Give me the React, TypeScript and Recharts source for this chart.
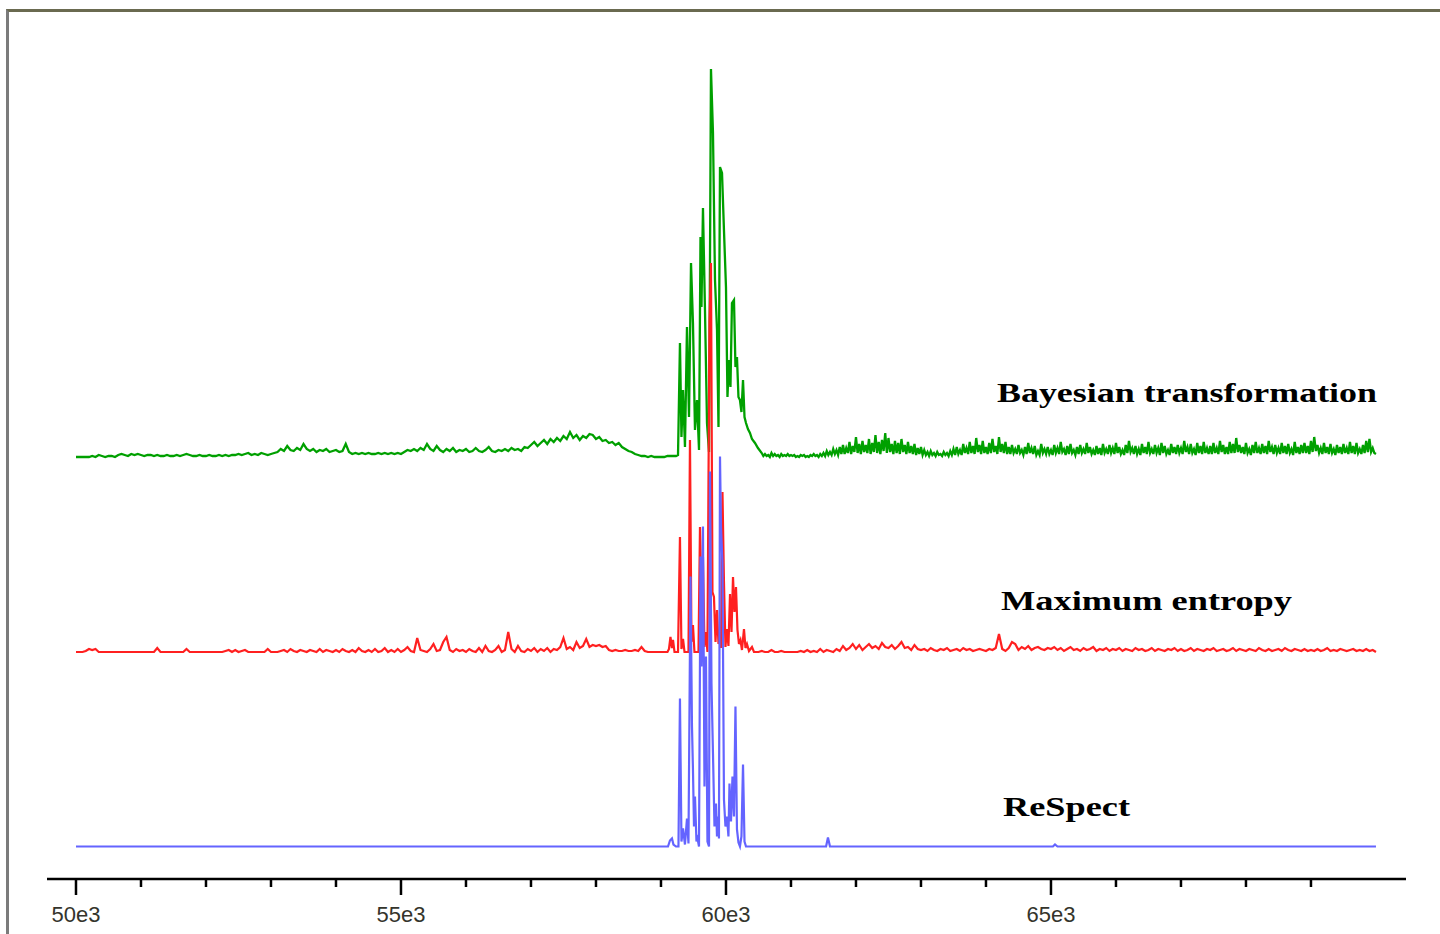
import React from "react";
import { LineChart, Line, XAxis, YAxis } from "recharts";

// ---------- data (relative intensity, arbitrary units; masses in Da) ----------

// Bayesian transformation (green): left background sampled every 50 Da
const greenLeftStart = 50000;
const greenLeftStep = 50;
const greenLeft = [
  0, 0, 0, 0, 0, 1, 0,
  2, 1, 0, 1, 1, 0,
  2, 3, 2, 1, 3, 2, 3, 2, 1, 2, 2,
  1, 2, 1, 1, 2, 1, 1, 2, 1, 2, 3, 2, 1, 1, 2, 1, 1, 2, 1, 1, 2, 1, 2, 1, 2,
  2, 3, 2, 3, 4, 2, 3, 2, 4, 3, 2, 3, 4,
  5, 8, 6, 11, 7, 6, 9, 7, 13, 8, 6, 8, 5, 7, 6, 8, 5, 6, 7, 5, 6,
  13, 5, 3, 4, 3, 4, 3, 4, 3, 3, 4, 3, 4, 3, 4, 3, 4, 3,
  5, 7, 6, 8, 6, 9, 7, 13, 8, 6, 11, 7, 5, 8, 6, 9, 5, 7, 6, 8, 5, 6, 9, 6, 5, 7, 10, 6, 5, 7, 6, 8, 6, 9, 7, 8, 6, 10, 9,
  12, 15, 11, 14, 17, 13, 18, 15, 19, 16, 21, 18, 25, 19, 22, 17, 21, 19, 23, 22, 18, 20, 16, 17, 14, 15, 12, 14, 10,
  8, 6, 5, 3, 2, 1, 1, 0, 1, 0, 0, 0, 0, 1, 1,
];
const greenPeak: [number, number][] = [
  [59200, 1], [59231, 1], [59262, 2], [59292, 114], [59315, 20], [59339, 67], [59369, 10],
  [59400, 130], [59431, 40], [59462, 194], [59492, 134], [59523, 27], [59554, 57], [59585, 7],
  [59608, 220], [59623, 150], [59646, 249], [59677, 147], [59708, 34], [59739, 5], [59769, 388],
  [59800, 324], [59831, 177], [59862, 127], [59885, 30], [59908, 290], [59939, 284], [59969, 227],
  [60000, 170], [60023, 60], [60046, 97], [60069, 70], [60092, 154], [60123, 157], [60146, 90],
  [60169, 100], [60192, 60], [60215, 57], [60238, 45], [60262, 77], [60285, 40], [60308, 34],
  [60338, 28], [60369, 24], [60400, 18], [60446, 14], [60492, 9],
];
// right background sampled every 25 Da
const greenRightStart = 60550;
const greenRightStep = 25;
const greenRight = [
  4, 1, 3, 1, 2, 0, 4, 1, 3, 1, 2, 0, 3, 1, 2, 1, 3, 1, 2, 1,
  2, 0, 1, 0, 2, 1, 2, 0, 1, 0, 2, 1, 3, 1, 2, 0, 3, 1,
  4, 1, 6, 2, 5, 2, 8, 3, 7, 2, 10, 3,
  12, 3, 9, 4, 15, 3, 11, 5, 20, 4, 13, 3, 16, 5, 12, 4, 18, 3, 14, 5, 22, 4, 15, 3, 17, 6, 24, 4, 19, 5,
  13, 3, 16, 4, 14, 3, 18, 5, 12, 3, 15, 4, 11, 3, 13, 2, 9, 3, 10, 2,
  7, 2, 5, 1, 6, 2, 4, 1, 5, 2, 3, 1, 5, 2, 4, 1, 6, 2, 8, 2,
  10, 3, 7, 2, 13, 4, 9, 3, 15, 4, 11, 3, 19, 5, 12, 3, 16, 4, 10, 3, 14, 4, 18, 5, 11, 3, 20, 5, 13, 4, 15, 3, 10, 3, 12, 4,
  8, 3, 12, 4, 7, 2, 10, 3, 14, 4, 9, 3, 11, 2, 6, 2, 13, 4, 8, 3,
  10, 3, 7, 2, 12, 4, 9, 3, 15, 5, 8, 2, 11, 3, 13, 4, 7, 2, 10, 3,
  12, 4, 8, 3, 14, 4, 10, 3, 7, 2, 11, 3, 9, 2, 13, 4, 8, 3, 12, 4,
  9, 3, 14, 4, 10, 3, 7, 2, 12, 4, 16, 5, 9, 3, 11, 3, 8, 2, 13, 4,
  10, 3, 15, 4, 8, 3, 12, 4, 9, 2, 14, 4, 11, 3, 7, 2, 13, 4, 10, 3,
  12, 4, 9, 3, 16, 5, 10, 3, 13, 4, 8, 2, 14, 4, 11, 3, 15, 4, 9, 3,
  11, 3, 14, 4, 9, 3, 16, 5, 12, 3, 10, 3, 15, 4, 13, 4, 19, 5, 12, 4,
  10, 3, 14, 4, 8, 2, 12, 4, 15, 4, 9, 3, 13, 4, 11, 3, 16, 5, 10, 3,
  12, 4, 9, 3, 14, 4, 11, 3, 13, 4, 8, 2, 15, 4, 10, 3, 12, 4, 14, 4,
  11, 3, 16, 5, 20, 6, 12, 4, 9, 3, 14, 4, 10, 3, 13, 4, 8, 2, 12, 4,
  10, 3, 13, 4, 9, 3, 15, 4, 11, 3, 14, 4, 8, 3, 12, 4, 16, 5, 18, 5,
  9, 4, 3,
];

// Maximum entropy (red): sampled every 50 Da outside the main cluster
const redStep = 50;
const redLeftStart = 50000;
const redLeft = [
  0, 0, 0, 1, 3, 2, 3, 0, 0, 0, 0, 0, 0, 0, 0, 0, 0, 0, 0, 0,
  0, 0, 0, 0, 0, 4, 0, 0, 0, 0, 0, 0, 0, 0, 3, 0, 0, 0, 0, 0,
  0, 0, 0, 0, 0, 0, 1, 2, 0, 2, 0, 1, 2, 0, 0, 0, 0, 0, 0, 3,
  0, 0, 0, 1, 2, 0, 3, 1, 0, 2, 1, 0, 2, 1, 0, 3, 0, 2, 1, 0,
  2, 0, 3, 1, 0, 2, 0, 4, 1, 0, 2, 0, 3, 0, 1, 4, 0, 2, 0, 3,
  0, 2, 5, 1, 0, 14, 2, 1, 0, 3, 8, 1, 2, 10, 15, 2, 0, 3, 1, 2,
  0, 3, 1, 0, 4, 0, 6, 1, 0, 2, 6, 0, 2, 20, 3, 0, 6, 1, 0, 3,
  1, 4, 0, 3, 1, 4, 0, 3, 2, 5, 14, 3, 5, 2, 10, 4, 6, 13, 5, 7,
  6, 7, 5, 6, 2, 1, 2, 1, 1, 2, 1, 1, 2, 1, 5, 1, 0, 0, 0, 0,
  0, 0, 0,
];
const redPeak: [number, number][] = [
  [59123, 3], [59146, 15], [59169, 4], [59185, 12], [59208, 0], [59262, 0], [59292, 115],
  [59315, 3], [59339, 13], [59362, 0], [59423, 0], [59446, 212], [59469, 10], [59492, 27],
  [59515, 0], [59577, 0], [59600, 125], [59623, 60], [59646, 95], [59669, 5], [59692, 20],
  [59715, 0], [59746, 330], [59769, 389], [59792, 60], [59815, 55], [59839, 10], [59862, 42],
  [59885, 8], [59908, 20], [59923, 4], [59946, 160], [59969, 70], [59992, 5], [60015, 23],
  [60038, 6], [60062, 58], [60085, 20], [60108, 75], [60131, 40], [60154, 65], [60177, 22],
  [60200, 8], [60223, 12], [60246, 2], [60277, 23], [60300, 4], [60323, 8], [60354, 1],
  [60400, 5], [60431, 0],
];
const redRightStart = 60450;
const redRight = [
  0, 0, 1, 0, 0, 2, 0, 0, 1, 0, 0,
  0, 0, 0, 1, 0, 2, 0, 1, 0, 3, 0, 2, 1, 0, 3, 1, 6, 2, 4, 8,
  3, 7, 2, 5, 8, 4, 6, 3, 9, 5, 4, 7, 3, 6, 10, 4, 5, 2, 7, 3,
  2, 3, 1, 4, 2, 1, 3, 2, 4, 1, 2, 3, 1, 4, 2, 3, 1, 2, 3, 2,
  1, 3, 2, 4, 18, 3, 1, 4, 10, 8, 2, 5, 3, 6, 2, 4, 5, 3, 2, 4,
  3, 5, 2, 4, 1, 3, 5, 2, 3, 1, 4, 2, 3, 5, 1, 3, 2, 4, 1, 3,
  2, 4, 1, 3, 2, 1, 4, 2, 3, 1, 2, 4, 1, 3, 2, 1, 3, 2, 4, 1,
  3, 1, 2, 4, 1, 3, 2, 1, 3, 2, 4, 1, 2, 3, 1, 2, 4, 1, 3, 2,
  1, 3, 2, 1, 4, 2, 1, 3, 1, 2, 3, 1, 4, 2, 1, 3, 2, 1, 3, 1,
  2, 1, 3, 1, 2, 4, 1, 2, 1, 3, 2, 1, 2, 3, 1, 2, 1, 3, 1, 2,
  0,
];

// ReSpect (blue): stick spectrum
const bluePoints: [number, number][] = [
  [50000, 0], [59108, 0], [59138, 6], [59169, 8], [59192, 2], [59231, 0], [59269, 0],
  [59292, 148], [59315, 5], [59339, 18], [59369, 2], [59400, 28], [59423, 3],
  [59454, 270], [59477, 120], [59492, 77], [59508, 20], [59523, 50], [59546, 5], [59562, 8], [59585, 0],
  [59608, 290], [59623, 180], [59646, 320], [59669, 60], [59692, 190], [59715, 5], [59739, 0],
  [59754, 375], [59777, 163], [59800, 93], [59823, 20], [59846, 43], [59862, 10], [59885, 30], [59892, 8],
  [59908, 390], [59923, 320], [59946, 284], [59969, 47], [59992, 20], [60015, 30], [60038, 10],
  [60054, 63], [60077, 25], [60100, 70], [60123, 30], [60146, 140], [60169, 17], [60192, 4],
  [60215, 0], [60238, 10], [60262, 82], [60285, 5], [60308, 0],
  [61540, 0], [61569, 9], [61600, 0], [65030, 0], [65062, 2], [65100, 0], [70000, 0],
];

// axis
const xDomain: [number, number] = [49554, 70462];
const xTicks = [
  50000, 51000, 52000, 53000, 54000, 55000, 56000, 57000, 58000, 59000,
  60000, 61000, 62000, 63000, 64000, 65000, 66000, 67000, 68000, 69000,
];
const xMajorTicks = [50000, 55000, 60000, 65000];
const xTickLabels = ["50e3", "55e3", "60e3", "65e3"];

const seriesLabels = ["Bayesian transformation", "Maximum entropy", "ReSpect"];

// ---------- build tables ----------
const gridSeries = (start: number, step: number, vals: number[]) =>
  vals.map((v, i) => ({ m: start + i * step, v }));
const pairSeries = (pts: [number, number][]) => pts.map(([m, v]) => ({ m, v }));

const greenData = [
  ...gridSeries(greenLeftStart, greenLeftStep, greenLeft),
  ...pairSeries(greenPeak),
  ...gridSeries(greenRightStart, greenRightStep, greenRight),
];
const redData = [
  ...gridSeries(redLeftStart, redStep, redLeft),
  ...pairSeries(redPeak),
  ...gridSeries(redRightStart, redStep, redRight),
];
const blueData = pairSeries(bluePoints);

const AxisTick = (props: any) => {
  const { x, y, payload } = props;
  const idx = xMajorTicks.indexOf(payload.value);
  const major = idx >= 0;
  return (
    <g>
      <line x1={x} y1={y} x2={x} y2={y + (major ? 16 : 8)} stroke="#000" strokeWidth={2.5} />
      {major && (
        <text
          x={x}
          y={y + 43}
          textAnchor="middle"
          fontFamily="'Liberation Sans', Arial, sans-serif"
          fontSize={22}
          fill="#34342c"
        >
          {xTickLabels[idx]}
        </text>
      )}
    </g>
  );
};

const labelStyle = {
  fontFamily: "'Liberation Serif', 'Times New Roman', serif",
  fontWeight: 700 as const,
  fontSize: 28,
  fill: "#000",
};

export default function App() {
  return (
    <div style={{ position: "absolute", left: 0, top: 0, width: 1440, height: 934, overflow: "hidden", background: "#fff" }}>
      <div
        style={{
          position: "absolute",
          left: 6,
          top: 9,
          width: 1500,
          height: 1000,
          borderLeft: "3px solid #7b7b7b",
          borderTop: "3px solid #6a6a50",
          boxSizing: "border-box",
        }}
      />
      <div style={{ position: "absolute", left: 0, top: 0 }}>
        <LineChart width={1440} height={934} margin={{ top: 20, right: 34, bottom: 15, left: 47 }}>
          <XAxis
            xAxisId="x"
            type="number"
            dataKey="m"
            domain={xDomain}
            allowDataOverflow
            ticks={xTicks}
            interval={0}
            height={40}
            tickSize={0}
            tickMargin={0}
            tickLine={false}
            axisLine={{ stroke: "#000", strokeWidth: 2.5 }}
            tick={<AxisTick />}
          />
          <YAxis yAxisId="g" hide width={0} type="number" domain={[-422, 437]} allowDataOverflow />
          <YAxis yAxisId="r" hide width={0} type="number" domain={[-227, 632]} allowDataOverflow />
          <YAxis yAxisId="b" hide width={0} type="number" domain={[-32.5, 826.5]} allowDataOverflow />
          <Line
            xAxisId="x"
            yAxisId="g"
            data={greenData}
            dataKey="v"
            type="linear"
            stroke="#00a000"
            strokeWidth={2.3}
            dot={false}
            activeDot={false}
            isAnimationActive={false}
          />
          <Line
            xAxisId="x"
            yAxisId="r"
            data={redData}
            dataKey="v"
            type="linear"
            stroke="#ff2020"
            strokeWidth={2.2}
            dot={false}
            activeDot={false}
            isAnimationActive={false}
          />
          <Line
            xAxisId="x"
            yAxisId="b"
            data={blueData}
            dataKey="v"
            type="linear"
            stroke="#6464ff"
            strokeWidth={2.2}
            dot={false}
            activeDot={false}
            isAnimationActive={false}
          />
          <text x={997} y={402} {...labelStyle} textLength={380} lengthAdjust="spacingAndGlyphs">
            {seriesLabels[0]}
          </text>
          <text x={1001} y={610} {...labelStyle} textLength={291} lengthAdjust="spacingAndGlyphs">
            {seriesLabels[1]}
          </text>
          <text x={1003} y={816} {...labelStyle} textLength={127} lengthAdjust="spacingAndGlyphs">
            {seriesLabels[2]}
          </text>
        </LineChart>
      </div>
    </div>
  );
}
